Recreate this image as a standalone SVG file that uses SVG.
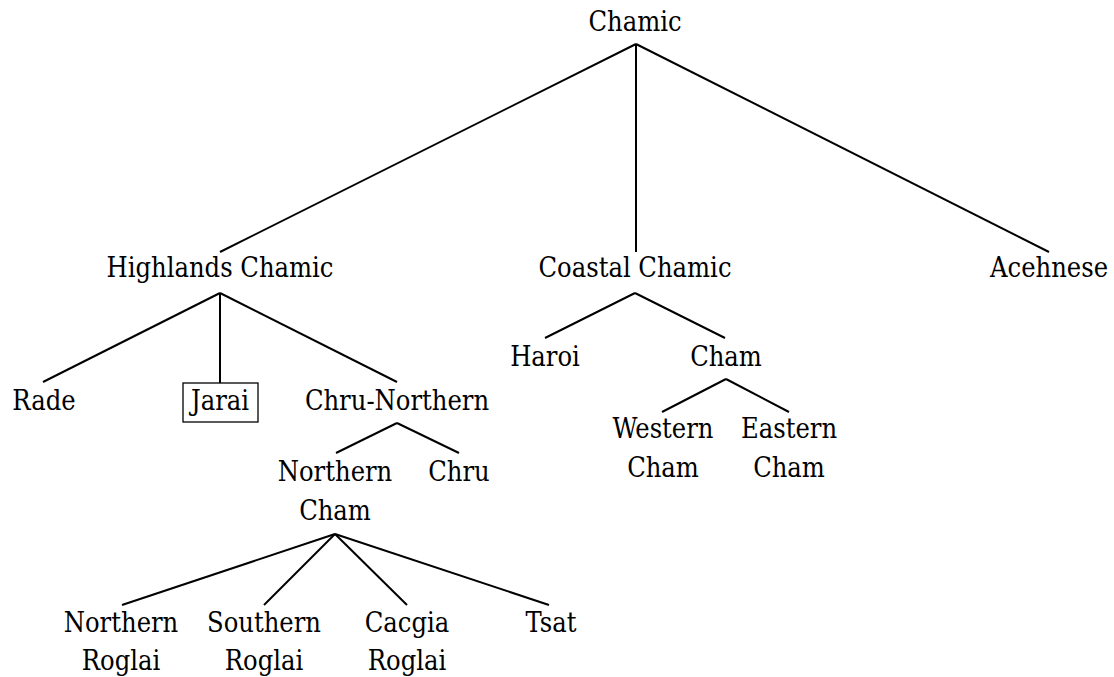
<svg xmlns="http://www.w3.org/2000/svg" width="1114" height="677" viewBox="0 0 1114 677">
<style>
.e line{stroke:#000;stroke-width:2;stroke-linecap:butt}
.box{fill:none;stroke:#000;stroke-width:1.3}
.t text{font-family:'DejaVu Serif Condensed','DejaVu Serif','Liberation Serif',serif;font-stretch:condensed;font-size:27px;fill:#000;text-anchor:middle}
</style>
<rect width="1114" height="677" fill="#fff"/>
<g class="e" id="connectors">
<line x1="636" y1="44" x2="220" y2="252"/>
<line x1="636" y1="44" x2="636" y2="252"/>
<line x1="636" y1="44" x2="1049" y2="252"/>
<line x1="220" y1="293" x2="43" y2="382"/>
<line x1="220" y1="293" x2="220" y2="383"/>
<line x1="220" y1="293" x2="397" y2="382"/>
<line x1="635" y1="293" x2="545" y2="338"/>
<line x1="635" y1="293" x2="725" y2="338"/>
<line x1="726" y1="379" x2="662" y2="412"/>
<line x1="726" y1="379" x2="789" y2="412"/>
<line x1="397" y1="423" x2="336" y2="453"/>
<line x1="397" y1="423" x2="459" y2="453"/>
<line x1="335" y1="534" x2="122" y2="605"/>
<line x1="335" y1="534" x2="264" y2="605"/>
<line x1="335" y1="534" x2="407" y2="605"/>
<line x1="335" y1="534" x2="549" y2="605"/>
</g>
<g class="t">
<g id="chamic"><text x="635" y="31">Chamic</text></g>
<g id="highlands"><text x="220" y="277">Highlands Chamic</text></g>
<g id="coastal"><text x="635" y="277">Coastal Chamic</text></g>
<g id="acehnese"><text x="1049" y="277">Acehnese</text></g>
<g id="rade"><text x="44" y="410">Rade</text></g>
<g id="jarai"><rect class="box" x="183" y="383" width="75" height="39"/><text x="220" y="410">Jarai</text></g>
<g id="chru-northern"><text x="397" y="410">Chru-Northern</text></g>
<g id="haroi"><text x="545" y="366">Haroi</text></g>
<g id="cham"><text x="726" y="366">Cham</text></g>
<g id="western-cham"><text x="663" y="438">Western</text><text x="663" y="477">Cham</text></g>
<g id="eastern-cham"><text x="789" y="438">Eastern</text><text x="789" y="477">Cham</text></g>
<g id="northern-cham"><text x="335" y="481">Northern</text><text x="335" y="520">Cham</text></g>
<g id="chru"><text x="459" y="481">Chru</text></g>
<g id="northern-roglai"><text x="121" y="632">Northern</text><text x="121" y="670">Roglai</text></g>
<g id="southern-roglai"><text x="264" y="632">Southern</text><text x="264" y="670">Roglai</text></g>
<g id="cacgia-roglai"><text x="407" y="632">Cacgia</text><text x="407" y="670">Roglai</text></g>
<g id="tsat"><text x="551" y="632">Tsat</text></g>
</g>
</svg>
